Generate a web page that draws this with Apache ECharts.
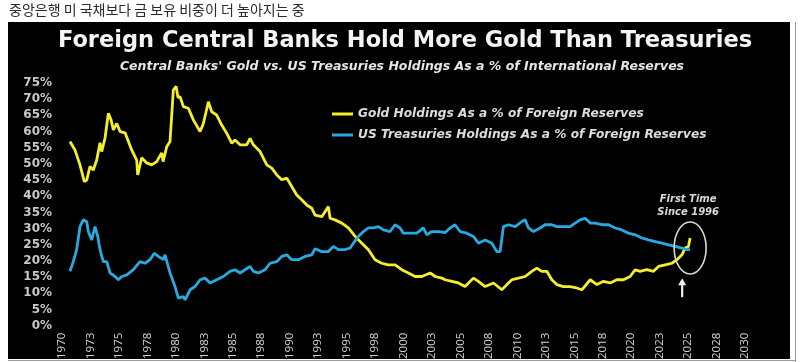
<!DOCTYPE html>
<html>
<head>
<meta charset="utf-8">
<script src="https://cdn.jsdelivr.net/npm/echarts@6/dist/echarts.min.js"></script>
<style>
html,body{margin:0;padding:0;background:#fff;}
#chart{width:800px;height:362px;}
</style>
</head>
<body>
<div id="chart"></div>
<script>
var headerText = '중앙은행 미 국채보다 금 보유 비중이 더 높아지는 중';
var titleText = 'Foreign Central Banks Hold More Gold Than Treasuries';
var subtitleText = "Central Banks' Gold vs. US Treasuries Holdings As a % of International Reserves";
var goldName = 'Gold Holdings As a % of Foreign Reserves';
var tsyName = 'US Treasuries Holdings As a % of Foreign Reserves';
var noteLines = ['First Time', 'Since 1996'];

var goldYears = [1970.70,1971.14,1971.58,1971.96,1972.17,1972.46,1972.75,1973.05,1973.34,1973.49,1973.78,1974.07,1974.31,1974.51,1974.81,1975.10,1975.54,1976.12,1976.56,1976.65,1977.00,1977.44,1977.88,1978.32,1978.76,1978.88,1979.20,1979.49,1979.78,1980.02,1980.19,1980.37,1980.66,1981.10,1981.54,1982.13,1982.42,1982.86,1983.15,1983.59,1984.03,1984.47,1984.91,1985.20,1985.64,1986.23,1986.52,1986.81,1987.40,1987.99,1988.43,1988.87,1989.31,1989.75,1990.18,1990.62,1991.06,1991.50,1991.94,1992.23,1992.82,1993.40,1993.55,1993.99,1994.58,1995.16,1995.75,1996.34,1996.92,1997.50,1998.09,1998.67,1999.26,1999.85,2000.43,2001.02,2001.61,2002.34,2002.78,2003.37,2003.66,2004.25,2004.82,2005.41,2006.14,2006.58,2007.17,2007.90,2008.64,2009.08,2009.52,2010.10,2010.69,2011.27,2011.71,2012.15,2012.59,2013.03,2013.47,2014.05,2014.64,2015.08,2015.67,2016.40,2016.99,2017.57,2018.15,2018.74,2019.32,2019.91,2020.35,2020.79,2021.38,2021.96,2022.40,2022.99,2023.58,2024.02,2024.46,2024.74,2025.03,2025.18];
var goldValues = [56.9,54.3,49.7,44.5,45.0,49.2,48.1,51.2,56.5,53.8,58.0,65.6,63.6,60.5,62.5,60.0,59.6,54.3,51.2,46.6,51.9,50.3,49.7,50.7,53.4,50.7,55.3,56.9,72.8,74.0,70.5,70.8,67.7,67.2,63.6,60.0,62.5,69.2,66.1,65.1,62.0,59.5,56.4,57.4,55.9,55.9,57.9,55.9,53.8,49.7,48.7,46.6,45.1,45.6,43.0,40.4,38.9,37.3,36.3,34.2,33.7,36.8,33.2,32.7,31.7,30.2,27.6,25.5,23.5,20.4,19.3,18.8,18.8,17.3,16.3,15.2,15.2,16.3,15.2,14.7,14.2,13.7,13.2,12.1,14.7,13.7,12.1,13.2,11.1,12.7,14.2,14.7,15.2,16.8,17.8,16.8,16.8,14.2,12.7,12.1,12.1,11.8,11.1,14.2,12.7,13.7,13.2,14.2,14.2,15.2,17.3,16.8,17.3,16.8,18.3,18.8,19.3,20.4,21.9,24.0,24.5,27.1];

var tsyYears = [1970.70,1970.99,1971.29,1971.58,1971.87,1972.17,1972.31,1972.61,1972.90,1973.14,1973.34,1973.63,1973.93,1974.22,1974.66,1974.95,1975.25,1975.69,1976.27,1976.85,1977.29,1977.73,1978.11,1978.46,1978.90,1979.05,1979.49,1979.93,1980.22,1980.66,1980.81,1981.25,1981.69,1982.13,1982.57,1983.01,1983.59,1984.17,1984.76,1985.20,1985.64,1986.08,1986.52,1986.81,1987.25,1987.84,1988.28,1988.87,1989.31,1989.75,1990.18,1990.76,1991.35,1991.94,1992.23,1992.82,1993.40,1993.84,1994.28,1994.87,1995.31,1995.60,1996.04,1996.48,1996.92,1997.36,1997.79,1998.23,1998.82,1999.26,1999.70,1999.99,2000.58,2001.17,2001.75,2002.05,2002.49,2003.07,2003.66,2004.09,2004.53,2004.97,2005.56,2006.14,2006.58,2007.17,2007.76,2008.20,2008.49,2008.78,2009.22,2009.81,2010.40,2010.69,2010.98,2011.42,2012.00,2012.44,2013.03,2013.47,2014.05,2014.64,2015.08,2015.52,2015.96,2016.40,2016.84,2017.43,2018.01,2018.59,2019.18,2019.77,2020.35,2020.94,2021.52,2022.11,2022.70,2023.28,2023.87,2024.46,2024.89,2025.18];
var tsyValues = [16.8,19.8,23.5,30.6,32.7,32.2,29.1,26.5,30.6,27.6,23.5,19.8,19.8,16.3,15.2,14.2,15.2,15.7,17.3,19.8,19.3,20.4,22.4,21.4,20.4,21.9,16.3,12.1,8.5,9.0,8.0,11.1,12.1,14.2,14.7,13.2,14.2,15.2,16.8,17.3,16.3,17.3,18.3,16.8,16.3,17.3,19.3,19.8,21.4,21.9,20.4,20.4,21.4,21.9,23.8,22.9,22.9,24.5,23.5,23.5,24.0,25.5,27.6,29.1,30.2,30.2,30.6,29.6,29.1,31.2,30.2,28.6,28.6,28.6,30.2,28.1,29.1,29.1,28.8,30.2,31.2,29.1,28.6,27.6,25.5,26.5,25.5,22.9,22.9,30.6,31.2,30.6,32.2,32.7,30.2,29.1,30.2,31.2,31.2,30.6,30.6,30.6,31.7,32.7,33.2,31.7,31.7,31.2,31.2,30.2,29.6,28.6,28.1,27.1,26.5,26.0,25.5,25.0,24.5,24.0,23.5,23.5];

function pairs(xs, ys) { return xs.map(function (x, i) { return [x, ys[i]]; }); }

var chart = echarts.init(document.getElementById('chart'), null, {renderer: 'canvas'});
var GOLD = '#f3ef2a', BLUE = '#29a9e1';

var baseGraphic = [
  {type: 'rect', z: -10, silent: true, shape: {x: 8, y: 22, width: 782, height: 337}, style: {fill: '#000000'}},
  {type: 'line', z: -9, silent: true, shape: {x1: 795.5, y1: 22, x2: 795.5, y2: 362}, style: {stroke: '#9a9a9a', lineWidth: 1}},
  {type: 'line', z: -9, silent: true, shape: {x1: 8, y1: 360.5, x2: 796, y2: 360.5}, style: {stroke: '#9a9a9a', lineWidth: 1}},
  {type: 'text', left: 9, top: 3, style: {text: headerText, fill: '#2a2a2a', fontSize: 14, fontFamily: 'Noto Sans CJK KR'}}
];

chart.setOption({
  animation: false,
  backgroundColor: '#ffffff',
  grid: {left: 62, right: 55, top: 83, bottom: 36, containLabel: false},
  title: [
    {text: titleText, left: 400, top: 25, textAlign: 'center',
     textStyle: {color: '#f4f4f4', fontSize: 22.5, fontWeight: 'bold', fontFamily: 'DejaVu Sans'}},
    {text: subtitleText, left: 397, top: 55, textAlign: 'center',
     textStyle: {color: '#e6e6e6', fontSize: 12.5, fontWeight: 'bold', fontStyle: 'italic', fontFamily: 'DejaVu Sans'}}
  ],
  legend: {
    orient: 'vertical', left: 332, top: 108, itemGap: 9, padding: 0,
    itemWidth: 21, itemHeight: 3, icon: 'rect',
    textStyle: {color: '#dddddd', fontSize: 12.2, fontWeight: 'bold', fontStyle: 'italic', fontFamily: 'DejaVu Sans'},
    data: [goldName, tsyName]
  },
  xAxis: {
    type: 'value', min: 1970, max: 2030, interval: 2.5,
    axisLine: {show: false}, axisTick: {show: false}, splitLine: {show: false},
    axisLabel: {rotate: 90, margin: 7, color: '#d2d2d2', fontSize: 11.5, fontFamily: 'Open Sans',
      formatter: function (v) { return String(Math.round(v)); }}
  },
  yAxis: {
    type: 'value', min: 0, max: 75, interval: 5,
    axisLine: {show: false}, axisTick: {show: false}, splitLine: {show: false},
    axisLabel: {margin: 10, color: '#c8c8c8', fontSize: 12, fontWeight: 'bold', fontFamily: 'DejaVu Sans',
      formatter: '{value}%'}
  },
  series: [
    {name: goldName, type: 'line', data: pairs(goldYears, goldValues), showSymbol: false,
     lineStyle: {color: GOLD, width: 2.8}, itemStyle: {color: GOLD}, z: 3},
    {name: tsyName, type: 'line', data: pairs(tsyYears, tsyValues), showSymbol: false,
     lineStyle: {color: BLUE, width: 2.8}, itemStyle: {color: BLUE}, z: 4}
  ],
  graphic: baseGraphic
});

// annotation placed from data coordinates
var last = goldYears[goldYears.length - 1];
var c = chart.convertToPixel({gridIndex: 0}, [last, 24]);
var t = chart.convertToPixel({gridIndex: 0}, [last, 37.5]);
var a = chart.convertToPixel({gridIndex: 0}, [last - 0.7, 15]);
chart.setOption({
  graphic: baseGraphic.concat([
    {type: 'ellipse', z: 10, silent: true, shape: {cx: c[0], cy: c[1], rx: 16, ry: 26},
     style: {fill: 'none', stroke: '#d8d8d8', lineWidth: 1.6}},
    {type: 'text', z: 10, x: t[0] - 2, y: t[1] + 2, style: {text: noteLines.join('\n'), align: 'center', verticalAlign: 'middle',
     fill: '#d8d8d8', fontSize: 10, fontStyle: 'italic', fontWeight: 'bold', fontFamily: 'DejaVu Sans', lineHeight: 13}},
    {type: 'line', z: 10, shape: {x1: a[0], y1: a[1] + 20, x2: a[0], y2: a[1] + 6}, style: {stroke: '#f0f0f0', lineWidth: 2.2}},
    {type: 'polygon', z: 10, shape: {points: [[a[0] - 4, a[1] + 8], [a[0] + 4, a[1] + 8], [a[0], a[1] + 1]]}, style: {fill: '#f0f0f0'}}
  ])
}, {replaceMerge: ['graphic']});
</script>
</body>
</html>
